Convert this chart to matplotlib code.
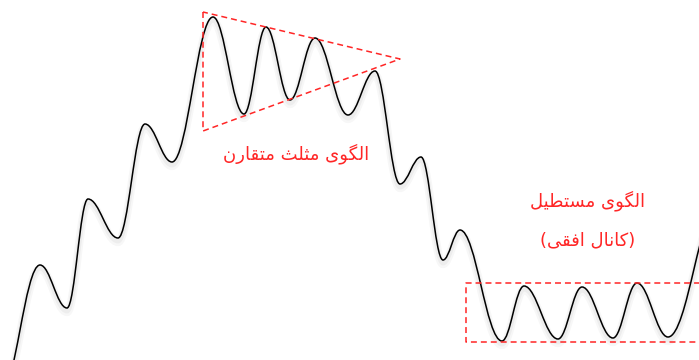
import matplotlib
matplotlib.use("Agg")
import matplotlib.pyplot as plt
from matplotlib.path import Path
from matplotlib.patches import PathPatch


# turning points of the price curve, pixel coordinates (y grows downward)
wave_x = [0, 40, 67, 88, 118, 145, 172, 213, 244, 266, 290, 315, 348,
          375, 400, 421, 443, 460, 502, 524, 558, 582, 613, 637, 668, 720]
wave_y = [395, 265, 308, 199, 238, 124, 162, 17, 114, 27, 100, 38, 115,
          71, 184, 157, 260, 230, 341, 286, 339, 287, 338, 283, 337, 201]

# symmetrical triangle corners
tri_x = [203, 203, 400, 203]
tri_y = [12, 131, 59, 12]

# horizontal channel (open on the right side)
rect_x = [705, 466, 466, 705]
rect_y = [283, 283, 342, 342]

labels = ["الگوی مثلث متقارن", "الگوی مستطیل", "(کانال افقی)"]
label_x = [296, 588, 588]
label_y = [154, 201, 240]


# minimal Persian shaping: isolated, final, initial, medial
forms = {
    "ا": ("\uFE8D", "\uFE8E", None, None),
    "ر": ("\uFEAD", "\uFEAE", None, None),
    "و": ("\uFEED", "\uFEEE", None, None),
    "ل": ("\uFEDD", "\uFEDE", "\uFEDF", "\uFEE0"),
    "گ": ("\uFB92", "\uFB93", "\uFB94", "\uFB95"),
    "ی": ("\uFBFC", "\uFBFD", "\uFBFE", "\uFBFF"),
    "م": ("\uFEE1", "\uFEE2", "\uFEE3", "\uFEE4"),
    "ث": ("\uFE99", "\uFE9A", "\uFE9B", "\uFE9C"),
    "ت": ("\uFE95", "\uFE96", "\uFE97", "\uFE98"),
    "ق": ("\uFED5", "\uFED6", "\uFED7", "\uFED8"),
    "ن": ("\uFEE5", "\uFEE6", "\uFEE7", "\uFEE8"),
    "س": ("\uFEB1", "\uFEB2", "\uFEB3", "\uFEB4"),
    "ط": ("\uFEC1", "\uFEC2", "\uFEC3", "\uFEC4"),
    "ک": ("\uFB8E", "\uFB8F", "\uFB90", "\uFB91"),
    "ف": ("\uFED1", "\uFED2", "\uFED3", "\uFED4"),
}
mirror = {"(": ")", ")": "("}


def shape(text):
    out = []
    for i, ch in enumerate(text):
        if ch not in forms:
            out.append(mirror.get(ch, ch))
            continue
        prev = text[i - 1] if i > 0 else ""
        nxt = text[i + 1] if i + 1 < len(text) else ""
        join_prev = prev in forms and forms[prev][2] is not None
        join_next = nxt in forms and forms[ch][2] is not None
        iso, fin, ini, med = forms[ch]
        if join_prev and join_next:
            out.append(med)
        elif join_prev:
            out.append(fin)
        elif join_next:
            out.append(ini)
        else:
            out.append(iso)
    return "".join(reversed(out))


def wave_path(xs, ys, k=0.38):
    verts = [(xs[0], ys[0])]
    codes = [Path.MOVETO]
    for i in range(len(xs) - 1):
        dx = xs[i + 1] - xs[i]
        verts += [(xs[i] + k * dx, ys[i]),
                  (xs[i + 1] - k * dx, ys[i + 1]),
                  (xs[i + 1], ys[i + 1])]
        codes += [Path.CURVE4] * 3
    return Path(verts, codes)


fig = plt.figure(figsize=(6.99, 3.6), dpi=100)
ax = fig.add_axes([0, 0, 1, 1])
ax.set_xlim(0, 699)
ax.set_ylim(360, 0)
ax.axis("off")

# soft shadow under the curve
for off, lw, a in [(4, 6, 0.03), (3, 3.5, 0.04)]:
    ax.add_patch(PathPatch(
        wave_path(wave_x, [y + off for y in wave_y]),
        facecolor="none", edgecolor="black", lw=lw, alpha=a
    ))

ax.add_patch(PathPatch(
    wave_path(wave_x, wave_y),
    facecolor="none", edgecolor="black", lw=1.1
))

red = "#ff2626"
ax.plot(tri_x, tri_y, color=red, lw=1.1, ls=(0, (3.9, 2.6)))
ax.plot(rect_x, rect_y, color=red, lw=1.1, ls=(0, (3.9, 2.6)))

for t, x, y in zip(labels, label_x, label_y):
    ax.text(x, y, shape(t), color=red, fontsize=13,
            family=["DejaVu Sans"], ha="center", va="center")

fig.savefig("out.png", dpi=100)
